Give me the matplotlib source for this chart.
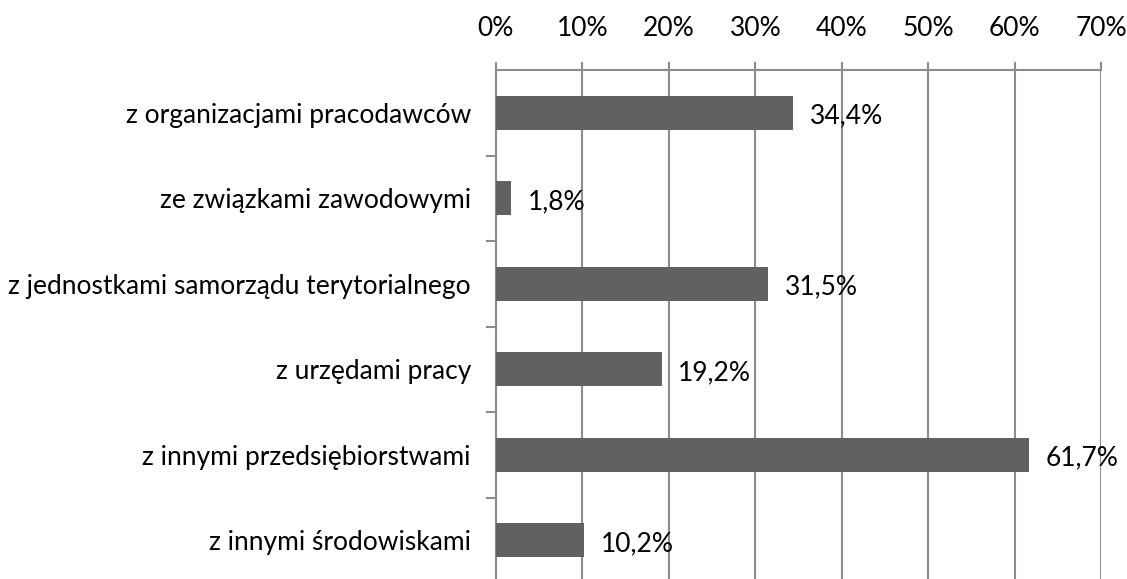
import numpy as np
import matplotlib.pyplot as plt

# dane z wykresu
kategorie = ['z organizacjami pracodawców', 'ze związkami zawodowymi',
             'z jednostkami samorządu terytorialnego', 'z urzędami pracy',
             'z innymi przedsiębiorstwami', 'z innymi środowiskami']
wartosci = [34.4, 1.8, 31.5, 19.2, 61.7, 10.2]
etykiety = ['34,4%', '1,8%', '31,5%', '19,2%', '61,7%', '10,2%']

plt.rcParams['font.family'] = ['Lato', 'DejaVu Sans']
fs = 19

fig = plt.figure(figsize=(11.27, 5.79), dpi=100)
ax = fig.add_axes([0.440, -0.007, 0.537, 0.886])

kolor_siatki = '#8c8c8c'
y = np.arange(len(kategorie))
ax.barh(y, wartosci, height=0.4, color='#616161', zorder=3)

for yi, v, t in zip(y, wartosci, etykiety):
    ax.text(v + 1.9, yi + 0.04, t, va='center', ha='left', fontsize=fs, color='black', zorder=4)

ax.set_xlim(0, 70)
ax.set_ylim(len(kategorie) - 0.5, -0.5)
ax.set_xticks(np.arange(0, 71, 10))
ax.set_xticklabels(['%d%%' % v for v in range(0, 71, 10)])
ax.xaxis.tick_top()
ax.tick_params(axis='x', which='major', length=6, width=1.5, color=kolor_siatki,
               labelsize=fs, pad=15)

ax.set_yticks(y)
ax.set_yticklabels(kategorie)
ax.set_yticks(np.arange(0.5, len(kategorie) - 0.5, 1), minor=True)
ax.tick_params(axis='y', which='major', length=0, labelsize=fs, pad=18)
ax.tick_params(axis='y', which='minor', length=7, width=1.5, color=kolor_siatki)

ax.grid(axis='x', color=kolor_siatki, linewidth=1.5, zorder=0)
for s in ['right', 'bottom']:
    ax.spines[s].set_visible(False)
for s in ['left', 'top']:
    ax.spines[s].set_color(kolor_siatki)
    ax.spines[s].set_linewidth(1.5)

fig.savefig('out.png', dpi=100)
